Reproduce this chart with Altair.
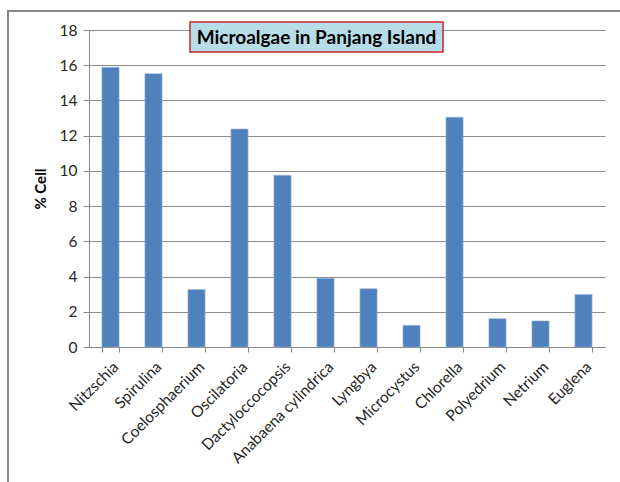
import altair as alt
import pandas as pd

# Share of cells per microalgae genus (%)
genera = ["Nitzschia", "Spirulina", "Coelosphaerium", "Oscilatoria", "Dactyloccocopsis",
          "Anabaena cylindrica", "Lyngbya", "Microcystus", "Chlorella", "Polyedrium",
          "Netrium", "Euglena"]
percent_cell = [15.88, 15.52, 3.26, 12.38, 9.75, 3.9, 3.31, 1.23, 13.05, 1.61, 1.48, 2.98]

chart_title = "Microalgae in Panjang Island"
y_ticks = list(range(0, 20, 2))

df = pd.DataFrame({"genus": genera, "pct": percent_cell})

FONT = "Lato"
W, H = 516, 317

bars = alt.Chart(df).mark_bar(color="#4F81BD", stroke="#9DB9DD", strokeWidth=0.6).encode(
    x=alt.X("genus:N", sort=genera, title=None,
            scale=alt.Scale(paddingInner=0.6, paddingOuter=0.3),
            axis=alt.Axis(labelAngle=-45, labelFontSize=15.5, labelColor="#262626",
                          labelFont=FONT, tickBand="extent", tickSize=5,
                          tickColor="#868686", domainColor="#868686", labelPadding=7,
                          grid=False)),
    y=alt.Y("pct:Q", title="% Cell",
            scale=alt.Scale(domain=[0, 18], nice=False),
            axis=alt.Axis(values=y_ticks, labelFontSize=15.5, labelColor="#262626",
                          labelFont=FONT, tickSize=6, tickColor="#868686",
                          domainColor="#868686", gridColor="#8C8C8C", gridWidth=1,
                          titleFont=FONT, titleFontSize=15, titleFontWeight="bold",
                          titleColor="#000000", titlePadding=11, labelPadding=6)),
)

one = alt.Data(values=[{}])

# Boxed chart title
title_box = alt.Chart(one).mark_rect(fill="#B7DEE8", stroke="#C8252C", strokeWidth=1.5).encode(
    x=alt.value(101), x2=alt.value(354), y=alt.value(-8), y2=alt.value(22)
)
title_text = alt.Chart(one).mark_text(
    text=chart_title, font=FONT, fontSize=19, fontWeight="bold", color="#000000",
    align="center", baseline="middle"
).encode(x=alt.value(227.5), y=alt.value(7.5))

# Outer chart-area border
frame = alt.Chart(one).mark_rect(fill=None, stroke="#878787", strokeWidth=2).encode(
    x=alt.value(-81), x2=alt.value(640), y=alt.value(-19), y2=alt.value(500)
)

chart = alt.layer(frame, bars, title_box, title_text).properties(
    width=W, height=H,
    autosize=alt.AutoSizeParams(type="none"),
    padding={"left": 89, "top": 30, "right": 15, "bottom": 135},
    background="white",
).configure_view(stroke=None)

chart.save("out.html", embed_options={"renderer": "svg", "actions": False})
